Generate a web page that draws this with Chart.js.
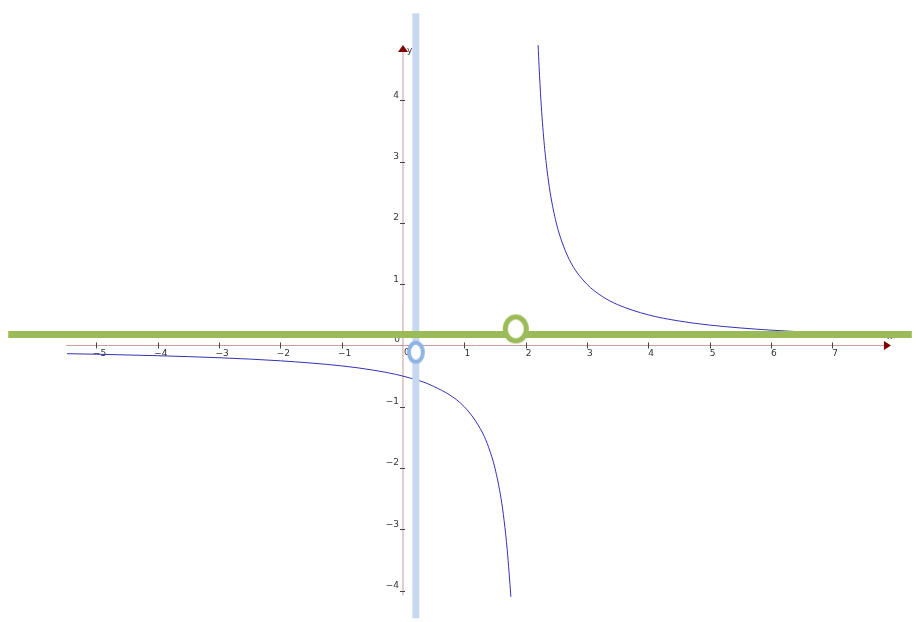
<!DOCTYPE html>
<html>
<head>
<meta charset="utf-8">
<script src="https://cdn.jsdelivr.net/npm/chart.js@4/dist/chart.umd.min.js"></script>
<style>
html, body { margin: 0; padding: 0; background: #fff; }
#wrap { width: 924px; height: 622px; }
</style>
</head>
<body>
<div id="wrap"><canvas id="c" width="924" height="622"></canvas></div>
<script>
// curve, two branches either side of x = 2
const leftBranchX = [-5.48, -5, -4, -3, -2, -1, -0.5, 0, 0.5, 1, 1.3, 1.4, 1.5, 1.6, 1.65, 1.7, 1.73, 1.76]
const leftBranchY = [-0.134, -0.143, -0.167, -0.2, -0.25, -0.333, -0.4, -0.5, -0.667, -1, -1.43, -1.67, -2, -2.5, -2.86, -3.33, -3.7, -4.1]
const rightBranchX = [2.204, 2.22, 2.25, 2.3, 2.35, 2.4, 2.5, 2.6, 2.75, 3, 3.25, 3.5, 4, 4.5, 5, 6, 7, 7.9]
const rightBranchY = [4.9, 4.55, 4, 3.33, 2.86, 2.5, 2, 1.67, 1.33, 1, 0.8, 0.667, 0.5, 0.4, 0.333, 0.25, 0.2, 0.17]

// highlighted lines and the two open circles
const greenLineY = 0.18
const greenLineX = [-6.44, 8.3]
const blueLineX = 0.21
const blueLineY = [-4.45, 5.42]
const greenHole = {x: 1.84, y: 0.27}
const blueHole = {x: 0.21, y: -0.11}

// axes
const xAxisRange = [-5.5, 7.96]
const yAxisRange = [-4.08, 4.9]
const xTickLabels = [-5, -4, -3, -2, -1, 1, 2, 3, 4, 5, 6, 7]
const yTickLabels = [-4, -3, -2, -1, 1, 2, 3, 4]

function pts(xs, ys) {
    return xs.map((x, i) => ({x: x, y: ys[i]}))
}

function ellipse(w, h, color, lw) {
    const cv = document.createElement('canvas')
    cv.width = w + lw * 2
    cv.height = h + lw * 2
    const g = cv.getContext('2d')
    g.fillStyle = '#fff'
    g.strokeStyle = color
    g.lineWidth = lw
    g.beginPath()
    g.ellipse(cv.width / 2, cv.height / 2, (w - lw) / 2, (h - lw) / 2, 0, 0, Math.PI * 2)
    g.fill()
    g.stroke()
    return cv
}

const minus = v => v < 0 ? '\u2212' + Math.abs(v) : String(v)

const axesPlugin = {
    id: 'mathAxes',
    beforeDatasetsDraw(chart) {
        const ctx = chart.ctx
        const sx = chart.scales.x
        const sy = chart.scales.y
        const ox = sx.getPixelForValue(0)
        const oy = sy.getPixelForValue(0)
        ctx.save()
        // axis lines
        ctx.strokeStyle = '#c99a9a'
        ctx.lineWidth = 1
        ctx.beginPath()
        ctx.moveTo(sx.getPixelForValue(xAxisRange[0]), oy)
        ctx.lineTo(sx.getPixelForValue(xAxisRange[1]) - 4, oy)
        ctx.moveTo(ox, sy.getPixelForValue(yAxisRange[0]))
        ctx.lineTo(ox, sy.getPixelForValue(yAxisRange[1]) + 4)
        ctx.stroke()
        // arrows
        ctx.fillStyle = '#800000'
        const ax = sx.getPixelForValue(xAxisRange[1])
        ctx.beginPath()
        ctx.moveTo(ax, oy)
        ctx.lineTo(ax - 7, oy - 4.5)
        ctx.lineTo(ax - 7, oy + 4.5)
        ctx.closePath()
        ctx.fill()
        const ay = sy.getPixelForValue(yAxisRange[1])
        ctx.beginPath()
        ctx.moveTo(ox, ay)
        ctx.lineTo(ox - 5, ay + 7)
        ctx.lineTo(ox + 5, ay + 7)
        ctx.closePath()
        ctx.fill()
        // ticks
        ctx.strokeStyle = '#444'
        ctx.beginPath()
        xTickLabels.forEach(v => {
            const px = Math.round(sx.getPixelForValue(v)) + 0.5
            ctx.moveTo(px, oy - 3)
            ctx.lineTo(px, oy + 3)
        })
        yTickLabels.forEach(v => {
            const py = Math.round(sy.getPixelForValue(v)) + 0.5
            ctx.moveTo(ox - 3, py)
            ctx.lineTo(ox + 2, py)
        })
        ctx.stroke()
        // labels
        ctx.fillStyle = '#333'
        ctx.font = '9px "DejaVu Sans"'
        ctx.textAlign = 'center'
        ctx.textBaseline = 'middle'
        xTickLabels.forEach(v => {
            ctx.fillText(minus(v), sx.getPixelForValue(v) + 3, oy + 8)
        })
        ctx.textAlign = 'right'
        yTickLabels.forEach(v => {
            ctx.fillText(minus(v), ox - 4, sy.getPixelForValue(v) - 5)
        })
        ctx.fillText('0', ox - 3, oy - 6)
        ctx.textAlign = 'left'
        ctx.fillText('0', ox + 1, oy + 7)
        ctx.fillText('y', ox + 4, ay + 6)
        ctx.fillText('x', ax - 4, oy - 9)
        ctx.restore()
    }
}

const curveStyle = {
    showLine: true,
    borderColor: '#3232b4',
    borderWidth: 1,
    pointRadius: 0,
    cubicInterpolationMode: 'monotone',
    order: 3
}

new Chart(document.getElementById('c'), {
    type: 'scatter',
    data: {
        datasets: [
            {
                label: 'green hole',
                data: [greenHole],
                pointStyle: ellipse(26, 29, '#9bbb59', 5),
                pointRadius: 15,
                order: 0
            },
            {
                label: 'blue hole',
                data: [blueHole],
                pointStyle: ellipse(18, 23, '#8eb4e3', 4),
                pointRadius: 12,
                order: 0
            },
            {
                label: 'green line',
                data: greenLineX.map(x => ({x: x, y: greenLineY})),
                showLine: true,
                borderColor: '#9bbb59',
                borderWidth: 7,
                borderCapStyle: 'butt',
                pointRadius: 0,
                order: 1
            },
            {
                label: 'blue line',
                data: blueLineY.map(y => ({x: blueLineX, y: y})),
                showLine: true,
                borderColor: '#c6d9f1',
                borderWidth: 7,
                borderCapStyle: 'butt',
                pointRadius: 0,
                order: 2
            },
            Object.assign({label: 'left', data: pts(leftBranchX, leftBranchY)}, curveStyle),
            Object.assign({label: 'right', data: pts(rightBranchX, rightBranchY)}, curveStyle)
        ]
    },
    options: {
        responsive: false,
        animation: false,
        layout: {padding: 0, autoPadding: false},
        plugins: {legend: {display: false}, tooltip: {enabled: false}},
        scales: {
            x: {type: 'linear', min: -6.574, max: 8.499, display: false},
            y: {type: 'linear', min: -4.511, max: 5.636, display: false}
        }
    },
    plugins: [axesPlugin]
})
</script>
</body>
</html>
